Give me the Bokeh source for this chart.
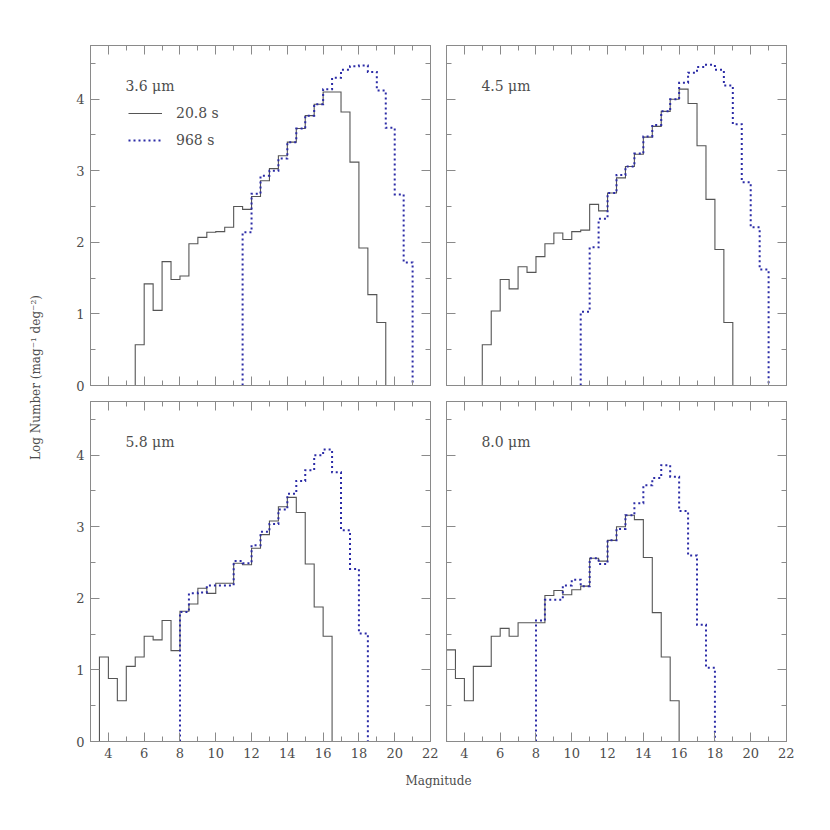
import math
import numpy as np
from bokeh.plotting import figure
from bokeh.layouts import row, column
from bokeh.models import Range1d, LinearAxis, FixedTicker, Label, Legend, LegendItem
from bokeh.embed import file_html
from bokeh.resources import INLINE

# ---------------- data (log number counts, 0.5 mag bins) ----------------
BIN = 0.5

# 3.6 um
ch1_short_start = 5.5
ch1_short = [0.57, 1.42, 1.05, 1.73, 1.48, 1.53, 1.98, 2.07, 2.14, 2.15, 2.21,
             2.50, 2.46, 2.64, 2.86, 3.03, 3.21, 3.40, 3.59, 3.77, 3.93, 4.10,
             4.10, 3.82, 3.12, 1.92, 1.27, 0.88]
ch1_long_start = 11.5
ch1_long = [2.14, 2.68, 2.93, 3.00, 3.17, 3.40, 3.59, 3.77, 3.93, 4.14, 4.30,
            4.41, 4.46, 4.47, 4.38, 4.12, 3.60, 2.67, 1.72]

# 4.5 um
ch2_short_start = 5.0
ch2_short = [0.57, 1.04, 1.48, 1.35, 1.66, 1.58, 1.80, 1.98, 2.13, 2.04, 2.15,
             2.17, 2.53, 2.44, 2.69, 2.90, 3.06, 3.23, 3.47, 3.62, 3.83, 4.00,
             4.14, 3.94, 3.35, 2.60, 1.90, 0.88]
ch2_long_start = 10.5
ch2_long = [1.03, 1.93, 2.33, 2.69, 2.94, 3.06, 3.24, 3.48, 3.64, 3.83, 4.00,
            4.23, 4.37, 4.45, 4.48, 4.41, 4.19, 3.65, 2.84, 2.21, 1.62]

# 5.8 um
ch3_short_start = 3.5
ch3_short = [1.18, 0.88, 0.57, 1.05, 1.18, 1.47, 1.42, 1.69, 1.27, 1.82, 1.92,
             2.14, 2.07, 2.21, 2.21, 2.49, 2.47, 2.70, 2.89, 3.08, 3.28, 3.41,
             3.20, 2.48, 1.88, 1.47]
ch3_long_start = 8.0
ch3_long = [1.81, 2.07, 2.08, 2.18, 2.18, 2.18, 2.52, 2.49, 2.74, 2.93, 3.04,
            3.24, 3.46, 3.64, 3.79, 4.00, 4.08, 3.76, 2.95, 2.41, 1.51]

# 8.0 um
ch4_short_start = 3.0
ch4_short = [1.28, 0.88, 0.57, 1.05, 1.05, 1.47, 1.58, 1.47, 1.66, 1.66, 1.66,
             2.04, 2.11, 2.05, 2.12, 2.17, 2.56, 2.52, 2.81, 3.00, 3.16, 3.10,
             2.57, 1.80, 1.18, 0.57]
ch4_long_start = 8.0
ch4_long = [1.69, 1.98, 1.98, 2.18, 2.26, 2.17, 2.56, 2.48, 2.81, 2.97, 3.16,
            3.33, 3.58, 3.68, 3.86, 3.70, 3.22, 2.60, 1.63, 1.03]

band_labels = ["3.6 μm", "4.5 μm", "5.8 μm", "8.0 μm"]
exposure_labels = ["20.8 s", "968 s"]
x_major_ticks = [4, 6, 8, 10, 12, 14, 16, 18, 20, 22]
x_minor_ticks = list(range(3, 23))
y_major_ticks = [0, 1, 2, 3, 4]
y_minor_ticks = [0, 0.5, 1, 1.5, 2, 2.5, 3, 3.5, 4, 4.5]

# ---------------- styling ----------------
FONT = "DejaVu Serif"
TXT = "#4d4d4d"
AXC = "#8a8a8a"
SOLID = "#555555"
DOT = "#2b2ba6"
FRAME = 340


def step_xy(start, vals):
    edges = start + BIN * np.arange(len(vals) + 1)
    xs = [edges[0]]
    ys = [0.0]
    for i, v in enumerate(vals):
        xs += [edges[i], edges[i + 1]]
        ys += [v, v]
    xs.append(edges[-1])
    ys.append(0.0)
    return xs, ys


def style_axis(ax, show_labels):
    ax.axis_line_color = AXC
    ax.major_tick_line_color = AXC
    ax.minor_tick_line_color = AXC
    ax.major_tick_in = 9
    ax.major_tick_out = 0
    ax.minor_tick_in = 5
    ax.minor_tick_out = 0
    ax.axis_label = None
    if show_labels:
        ax.major_label_text_font = FONT
        ax.major_label_text_font_size = "13px"
        ax.major_label_text_color = TXT
        ax.major_label_standoff = 6
    else:
        ax.major_label_text_font_size = "1px"
        ax.major_label_text_color = None
        ax.major_label_text_alpha = 0
        ax.major_label_standoff = 0


def make_panel(s_start, s_vals, l_start, l_vals, label, left, top, legend=False):
    bl = 32 if left else 8
    bt = 45 if top else 8
    bb = 8 if top else 25
    p = figure(width=bl + FRAME + 8, height=bt + FRAME + bb,
               x_range=Range1d(3, 22), y_range=Range1d(0, 4.75),
               output_backend="svg", toolbar_location=None,
               min_border_left=bl, min_border_right=8,
               min_border_top=bt, min_border_bottom=bb)
    p.add_layout(LinearAxis(), "above")
    p.add_layout(LinearAxis(), "right")
    p.grid.visible = False
    p.outline_line_color = AXC
    p.background_fill_color = "white"
    p.border_fill_color = "white"
    for ax in p.xaxis:
        ax.ticker = FixedTicker(ticks=x_major_ticks, minor_ticks=x_minor_ticks)
    for ax in p.yaxis:
        ax.ticker = FixedTicker(ticks=y_major_ticks, minor_ticks=y_minor_ticks)
    for ax in p.below:
        style_axis(ax, not top)
    for ax in p.above:
        style_axis(ax, False)
    for ax in p.left:
        style_axis(ax, left)
    for ax in p.right:
        style_axis(ax, False)

    xs, ys = step_xy(s_start, s_vals)
    r1 = p.line(xs, ys, line_color=SOLID, line_width=1.1, line_join="miter")
    xs, ys = step_xy(l_start, l_vals)
    r2 = p.line(xs, ys, line_color=DOT, line_width=2, line_dash="2 3",
                line_join="miter")

    p.add_layout(Label(x=4.95, y=4.19, text=label, text_font=FONT,
                       text_font_size="14px", text_color=TXT,
                       text_baseline="middle", text_align="left"))
    if legend:
        lg = Legend(items=[LegendItem(label=exposure_labels[0], renderers=[r1]),
                           LegendItem(label=exposure_labels[1], renderers=[r2])],
                    location=(38, 235), border_line_color=None,
                    background_fill_alpha=0, padding=0, margin=0, spacing=7,
                    glyph_width=34, glyph_height=20, label_height=20,
                    label_standoff=14, label_text_font=FONT,
                    label_text_font_size="14px", label_text_color=TXT)
        p.add_layout(lg)
    return p


p1 = make_panel(ch1_short_start, ch1_short, ch1_long_start, ch1_long,
                band_labels[0], left=True, top=True, legend=True)
p2 = make_panel(ch2_short_start, ch2_short, ch2_long_start, ch2_long,
                band_labels[1], left=False, top=True)
p3 = make_panel(ch3_short_start, ch3_short, ch3_long_start, ch3_long,
                band_labels[2], left=True, top=False)
p4 = make_panel(ch4_short_start, ch4_short, ch4_long_start, ch4_long,
                band_labels[3], left=False, top=False)

# y-axis title figure
YH = 796
ylab = figure(width=58, height=YH, x_range=Range1d(0, 58), y_range=Range1d(0, YH),
              output_backend="svg", toolbar_location=None, min_border=0,
              x_axis_location=None, y_axis_location=None)
ylab.outline_line_color = None
ylab.grid.visible = False
ylab.add_layout(Label(x=35, y=YH - 377, text="Log Number (mag⁻¹ deg⁻²)",
                      angle=math.pi / 2, text_font=FONT, text_font_size="12px",
                      text_color=TXT, text_align="center", text_baseline="middle"))

# x-axis title figure
xlab = figure(width=736, height=30, x_range=Range1d(0, 736), y_range=Range1d(0, 30),
              output_backend="svg", toolbar_location=None, min_border=0,
              x_axis_location=None, y_axis_location=None)
xlab.outline_line_color = None
xlab.grid.visible = False
xlab.add_layout(Label(x=380, y=16, text="Magnitude", text_font=FONT,
                      text_font_size="12px", text_color=TXT,
                      text_align="center", text_baseline="middle"))

layout = row(ylab, column(row(p1, p2), row(p3, p4), xlab))

open("out.html", "w").write(file_html(layout, INLINE))
